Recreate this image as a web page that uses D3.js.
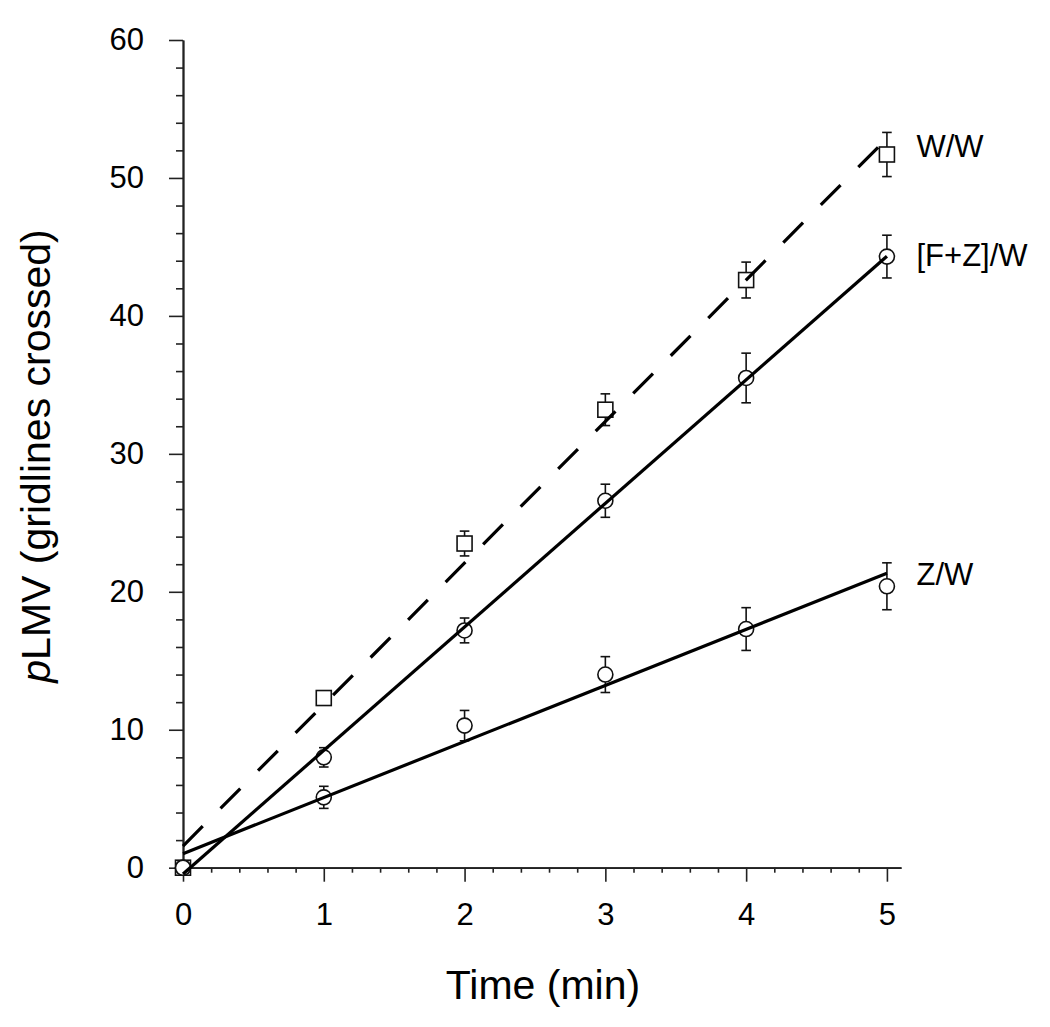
<!DOCTYPE html>
<html>
<head>
<meta charset="utf-8">
<script src="https://cdn.jsdelivr.net/npm/d3@7"></script>
<style>
  html, body { margin: 0; padding: 0; background: #fff; }
  svg { display: block; font-family: "Liberation Sans", Arial, sans-serif; }
</style>
</head>
<body>
<svg id="chart" width="1050" height="1027"></svg>
<script>
// ---- data ----
const times = [0, 1, 2, 3, 4, 5];
const xTicks = [0, 1, 2, 3, 4, 5];
const yTicks = [0, 10, 20, 30, 40, 50, 60];

const seriesNames = ["W/W", "[F+Z]/W", "Z/W"];
const wwValues = [0, 12.3, 23.5, 33.2, 42.6, 51.7];
const wwErrors = [0, 0.4, 0.9, 1.15, 1.3, 1.6];
const fzwValues = [0, 8.0, 17.2, 26.6, 35.5, 44.3];
const fzwErrors = [0, 0.7, 0.9, 1.2, 1.8, 1.55];
const zwValues = [0, 5.1, 10.3, 14.0, 17.3, 20.4];
const zwErrors = [0, 0.8, 1.1, 1.3, 1.55, 1.7];

// ---- layout ----
const svg = d3.select("#chart");
const x = d3.scaleLinear().domain([0, 5.1]).range([183, 901]);
const y = d3.scaleLinear().domain([0, 60]).range([867.7, 40]);

const series = [
  { name: seriesNames[0], values: wwValues, errors: wwErrors, marker: "square", dashed: true, labelDy: 3 },
  { name: seriesNames[1], values: fzwValues, errors: fzwErrors, marker: "circle", dashed: false, labelDy: 9 },
  { name: seriesNames[2], values: zwValues, errors: zwErrors, marker: "circle", dashed: false, labelDy: -1 }
];

function fit(xs, ys) {
  const mx = d3.mean(xs), my = d3.mean(ys);
  let sxy = 0, sxx = 0;
  xs.forEach((v, i) => { sxy += (v - mx) * (ys[i] - my); sxx += (v - mx) * (v - mx); });
  const b = sxy / sxx;
  return { a: my - b * mx, b };
}

// ---- axes ----
const xAxis = d3.axisBottom(x).tickValues(xTicks).tickSize(14).tickSizeOuter(0).tickPadding(21)
  .tickFormat(d3.format("d"));
const xMinor = d3.axisBottom(x).tickValues(d3.range(0, 5.01, 0.2).filter(v => Math.abs(v - Math.round(v)) > 1e-6))
  .tickSize(5).tickSizeOuter(0).tickFormat("");
const yAxis = d3.axisLeft(y).tickValues(yTicks).tickSize(14).tickSizeOuter(0).tickPadding(25)
  .tickFormat(d3.format("d"));
const yMinor = d3.axisLeft(y).tickValues(d3.range(0, 60.01, 2).filter(v => v % 10 !== 0))
  .tickSize(7).tickSizeOuter(0).tickFormat("");

function styleAxis(g) {
  g.attr("font-size", null).attr("font-family", null);
  g.selectAll(".domain").attr("stroke", "#222").attr("stroke-width", 1.8);
  g.selectAll(".tick line").attr("stroke", "#222").attr("stroke-width", 1.6);
  g.selectAll(".tick text").attr("fill", "#000").style("font-size", "31px")
    .style("font-family", "'Liberation Sans', Arial, sans-serif");
}

svg.append("g").attr("transform", `translate(0,${y(0)})`).call(xMinor).call(styleAxis);
svg.append("g").attr("transform", `translate(0,${y(0)})`).call(xAxis).call(styleAxis);
svg.append("g").attr("transform", `translate(${x(0)},0)`).call(yMinor).call(styleAxis);
svg.append("g").attr("transform", `translate(${x(0)},0)`).call(yAxis).call(styleAxis);

// axis titles
svg.append("text")
  .attr("x", 543).attr("y", 999)
  .attr("text-anchor", "middle")
  .style("font-size", "41px")
  .text("Time (min)");

const yt = svg.append("text")
  .attr("transform", "translate(50,456) rotate(-90)")
  .attr("text-anchor", "middle")
  .style("font-size", "41px");
yt.append("tspan").style("font-style", "italic").text("p");
yt.append("tspan").text("LMV (gridlines crossed)");

// ---- markers & error bars ----
series.forEach(s => {
  const g = svg.append("g");
  const pts = times.map((t, i) => ({ t, v: s.values[i], e: s.errors[i] }));
  pts.filter(p => p.e > 0).forEach(p => {
    const cx = x(p.t);
    g.append("line").attr("x1", cx).attr("x2", cx).attr("y1", y(p.v - p.e)).attr("y2", y(p.v + p.e))
      .attr("stroke", "#111").attr("stroke-width", 1.6);
    [p.v - p.e, p.v + p.e].forEach(yy => {
      g.append("line").attr("x1", cx - 4.8).attr("x2", cx + 4.8).attr("y1", y(yy)).attr("y2", y(yy))
        .attr("stroke", "#111").attr("stroke-width", 1.6);
    });
  });
  pts.forEach(p => {
    if (s.marker === "square") {
      g.append("rect").attr("x", x(p.t) - 7.5).attr("y", y(p.v) - 7.5).attr("width", 15).attr("height", 15)
        .attr("fill", "#fff").attr("stroke", "#111").attr("stroke-width", 1.6);
    } else {
      g.append("circle").attr("cx", x(p.t)).attr("cy", y(p.v)).attr("r", 7.5)
        .attr("fill", "#fff").attr("stroke", "#111").attr("stroke-width", 1.6);
    }
  });
});

// ---- regression lines ----
series.forEach(s => {
  const f = fit(times, s.values);
  const line = svg.append("line")
    .attr("x1", x(0)).attr("y1", y(f.a))
    .attr("x2", x(5)).attr("y2", y(f.a + 5 * f.b))
    .attr("stroke", "#000").attr("stroke-width", 3.2);
  if (s.dashed) line.attr("stroke-dasharray", "28,25.2");
});

// ---- series labels ----
series.forEach(s => {
  svg.append("text")
    .attr("x", 916.5)
    .attr("y", y(s.values[s.values.length - 1]) + s.labelDy)
    .style("font-size", "31px")
    .text(s.name);
});
</script>
</body>
</html>
